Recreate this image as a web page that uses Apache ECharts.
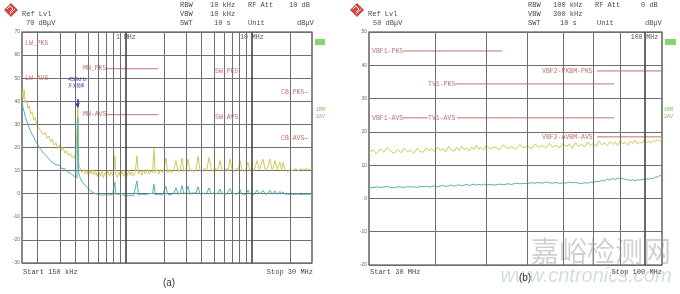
<!DOCTYPE html>
<html><head><meta charset="utf-8">
<script src="https://cdn.jsdelivr.net/npm/echarts@6/dist/echarts.min.js"></script>
<style>html,body{margin:0;padding:0;background:#fff}#c{width:680px;height:294px}</style>
</head><body><div id="c"></div>
<script>
// ---------- Panel (a): 150 kHz - 30 MHz, frequency in MHz, level in dBuV ----------
const freqA = [0.150,0.153,0.156,0.159,0.163,0.167,0.171,0.176,0.181,0.186,
 0.191,0.197,0.203,0.209,0.216,0.223,0.230,0.237,0.245,0.253,
 0.261,0.270,0.279,0.288,0.298,0.308,0.318,0.329,0.340,0.352,
 0.364,0.376,0.389,0.400,0.410,0.416,0.422,0.430,0.440,0.452,
 0.466,0.478,0.490,0.503,0.517,0.531,0.546,0.561,0.577,0.593,
 0.610,0.627,0.645,0.663,0.682,0.701,0.721,0.742,0.763,0.785,
 0.805,0.818,0.832,0.857,0.882,0.908,0.935,0.962,0.990,1.02,
 1.05,1.08,1.11,1.15,1.19,1.225,1.26,1.30,1.34,1.38,
 1.43,1.48,1.53,1.58,1.63,1.67,1.71,1.77,1.83,1.89,
 1.95,2.01,2.08,2.15,2.22,2.30,2.40,2.50,2.60,2.70,
 2.79,2.89,3.00,3.11,3.22,3.34,3.45,3.60,3.74,3.88,
 4.03,4.20,4.38,4.57,4.76,4.96,5.16,5.37,5.58,5.80,
 6.03,6.27,6.50,6.71,6.95,7.22,7.50,7.78,8.05,8.35,
 8.65,8.98,9.31,9.65,10.0,10.45,10.98,11.5,11.9,12.26,
 12.8,13.3,13.9,14.5,15.25,15.9,16.7,17.2,17.7,18.3,
 19.2,20.1,21.1,22.2,23.3,24.5,25.8,27.1,28.5,30.0];
const peakA = [44.5,41.0,45.0,39.5,40.5,37.0,38.0,34.5,35.5,32.0,
 33.0,29.5,30.0,27.5,28.0,25.5,26.5,24.0,25.0,22.5,
 23.5,21.0,22.0,19.5,21.0,18.5,20.0,17.5,18.5,16.5,
 17.5,15.5,16.5,14.5,15.0,37.0,13.0,11.5,10.0,9.0,
 10.5,8.5,10.0,8.0,10.0,8.5,10.5,8.0,9.5,7.5,
 9.5,7.5,10.0,7.0,9.0,8.0,10.0,7.5,9.5,8.0,
 10.0,16.5,8.5,7.0,9.5,7.5,10.0,7.5,9.5,7.5,
 10.0,8.0,9.5,7.5,9.5,16.5,8.5,10.0,8.0,10.0,
 8.5,10.5,8.5,10.0,9.0,19.5,9.0,10.5,8.5,10.5,
 9.0,10.5,15.5,9.0,10.5,9.0,10.5,14.3,9.5,10.5,
 15.5,9.5,10.5,15.0,9.5,10.5,9.5,10.5,16.2,10.0,
 9.5,11.0,10.0,15.7,10.5,9.5,11.0,10.0,14.3,10.5,
 9.5,11.0,10.0,15.0,10.5,9.5,11.0,10.0,14.3,10.5,
 9.5,11.0,13.6,10.0,11.0,10.0,14.3,10.5,9.8,15.0,
 10.0,11.0,15.0,10.0,14.3,10.5,13.6,10.0,13.6,10.5,
 9.5,10.5,10.0,10.8,10.0,10.8,10.2,11.0,10.3,10.8];
const avgA = [40.5,37.0,35.5,33.5,31.5,30.0,28.5,27.0,25.5,24.5,
 23.0,22.0,20.5,19.5,18.5,17.5,16.8,16.0,15.0,14.5,
 13.5,13.8,12.5,12.0,12.3,11.0,10.5,10.8,9.6,9.9,
 8.8,8.2,7.5,7.8,6.8,33.0,9.0,7.5,6.0,5.0,
 4.2,3.5,3.0,2.2,1.5,1.0,0.6,0.2,0.5,-0.2,
 0.3,-0.5,0.0,-0.6,0.1,-0.4,0.0,-0.6,0.2,-0.3,
 0.0,5.0,-0.2,-0.8,-0.2,-0.7,0.1,-0.9,-0.3,-0.8,
 -0.2,-0.7,0.0,-0.9,-0.3,5.5,-0.5,-0.9,-0.2,-1.0,
 -0.4,-0.8,0.0,-0.6,0.1,4.2,-0.4,-0.8,-0.2,0.4,
 -0.6,0.2,3.2,-0.3,0.4,-0.5,0.2,2.6,-0.3,0.4,
 3.5,-0.2,0.5,3.3,-0.3,0.3,-0.2,0.3,3.0,-0.2,
 0.4,-0.1,0.3,2.5,-0.2,0.4,-0.1,0.3,2.0,-0.2,
 0.3,-0.2,0.2,2.2,-0.2,0.2,-0.3,0.1,1.8,-0.2,
 0.2,-0.3,1.5,-0.1,0.2,-0.3,1.6,-0.2,0.1,1.4,
 -0.3,0.1,1.5,-0.2,1.2,-0.3,1.0,-0.2,0.8,-0.3,
 -0.1,-0.4,-0.2,-0.3,-0.1,-0.4,-0.2,-0.3,-0.2,-0.3];
const xRangeA = [0.15, 30];
const yTicksA = [70, 60, 50, 40, 30, 20, 10, 0, -10, -20, -30];
const gridFreqA = [0.2,0.3,0.4,0.5,0.6,0.7,0.8,0.9,1,2,3,4,5,6,7,8,9,10,20];
const limA_level = [54.1, 34.2];
const limA_from = [0.709, 0.709];
const limA_to = [1.80, 1.80];
const limA_text = ['LW_PK5','LW-AVS','MW_PK5','MW-AVS','SW_PK5','SW-AVS','CB_PK5\u2014','CB-AVS\u2014'];
const markerA = { freq: 0.413, from: 41.0, to: 37.3, text: '450kHz', sub: '开关频率' };

// ---------- Panel (b): 30 MHz - 100 MHz ----------
const freqB = [30,30.5,31,31.5,32,32.5,33,33.5,34,34.5,
 35,35.5,36,36.5,37,37.5,38,38.5,39,39.5,
 40,40.5,41,41.5,42,42.5,43,43.5,44,44.5,
 45,45.5,46,46.5,47,47.5,48,48.5,49,49.5,
 50,51,52,53,54,55,56,57,58,59,
 60,61,62,63,64,65,66,67,68,69,
 70,71,72,73,74,75,76,77,78,79,
 80,81,82,83,84,85,86,87,88,89,
 90,91,92,93,94,95,96,97,98,99,
 100,101,102,103,104,105,106,107,108];
const peakB = [13.8,14.6,13.5,14.9,13.9,15.3,14.1,13.6,14.8,13.7,
 15.1,14.0,14.5,13.6,15.0,14.2,13.8,15.2,14.3,14.9,
 13.9,15.4,14.4,15.0,14.0,15.6,14.6,14.1,15.3,14.4,
 15.7,14.6,15.1,14.2,15.5,14.7,16.0,14.8,15.3,14.5,
 15.8,14.9,15.5,14.6,16.1,15.0,15.6,14.8,16.2,15.2,
 15.8,14.9,16.4,15.3,15.9,15.1,16.6,15.4,16.0,15.2,
 16.5,15.6,16.3,15.0,16.8,15.7,16.2,15.4,17.0,15.9,
 16.5,15.6,17.3,16.1,16.7,15.8,17.1,16.2,16.9,15.9,
 17.4,16.4,16.8,16.0,17.2,16.5,17.5,16.3,17.0,16.6,
 17.6,16.8,17.2,16.7,17.5,17.0,17.7,17.3,17.8];
const avgB = [3.4,3.2,3.5,3.3,3.4,3.6,3.3,3.2,3.5,3.4,
 3.3,3.6,3.4,3.5,3.3,3.6,3.5,3.7,3.4,3.6,
 3.8,3.5,3.7,3.9,3.6,3.8,4.0,3.7,3.9,4.1,
 3.8,4.0,4.2,3.9,4.1,4.3,4.0,4.2,4.0,4.3,
 4.1,4.2,4.0,4.3,4.1,4.4,4.2,4.6,4.4,4.5,
 4.5,4.7,4.6,4.8,4.6,4.9,4.7,4.6,4.8,4.5,
 4.7,4.6,4.9,4.7,4.8,4.6,4.5,4.7,4.6,4.9,
 4.8,5.1,5.0,5.4,5.3,5.8,5.5,6.0,5.7,6.1,
 5.8,6.0,5.7,5.6,5.4,5.6,5.3,5.6,5.5,5.7,
 5.6,5.9,5.8,6.1,6.0,6.4,6.5,6.9,7.1];
const xRangeB = [30, 108];
const yTicksB = [50, 40, 30, 20, 10, 0, -10, -20];
const gridFreqB = [40,50,60,70,80,90,100];
const limB_level = [44.3, 38.3, 34.4, 24.2, 24.2, 18.5];
const limB_from = [34.8, 81.3, 43.7, 34.8, 44.1, 81.3];
const limB_to = [53.7, 108, 87.6, 38.8, 87.6, 108];
const limB_text = ['VBF1-PK5','VBF2-PKBM-PK5','TV1-PK5','VBF1-AVS','TV1-AVS','VBF2-AVBM-AVS'];

// ---------- styling ----------
const YEL = '#d3c75c', CYA = '#4fb3b8', LIM = '#c86f6f', GRIDC = '#6e6e6e';
const MONO = '"Liberation Mono", "DejaVu Sans Mono", monospace';
const zip = (a, b) => a.map((v, i) => [v, b[i]]);
const isDecade = v => Math.abs(Math.log10(v) - Math.round(Math.log10(v))) < 1e-6;

function T(x, y, text, o) {
  const st = Object.assign({ text, fill: '#4a4a4a', font: '7px ' + MONO,
    textAlign: 'left', textVerticalAlign: 'middle', align: 'left', verticalAlign: 'middle' }, o || {});
  if (o && o.textAlign) st.align = o.textAlign;
  return { type: 'text', x, y, silent: true, z: 100, style: st };
}
function logo(cx, cy) {
  const h = 7;
  return [
    { type: 'polygon', silent: true, z: 100, shape: { points: [[cx, cy - h], [cx + h, cy], [cx, cy + h], [cx - h, cy]] }, style: { fill: '#d8463e' } },
    { type: 'polyline', silent: true, z: 101, shape: { points: [[cx - 4, cy - 1], [cx - 1, cy - 4], [cx + 2, cy - 1], [cx - 1, cy + 2]] }, style: { stroke: '#fff', lineWidth: 1, fill: null } },
    { type: 'polyline', silent: true, z: 101, shape: { points: [[cx - 1, cy + 4], [cx + 4, cy - 1]] }, style: { stroke: '#fff', lineWidth: 1, fill: null } }
  ];
}

const limitTextA = { font: '6.5px ' + MONO, fill: LIM };
const limitPos = {
  'LW_PK5': [25, 43], 'LW-AVS': [25, 78], 'MW_PK5': [83, 68], 'MW-AVS': [83, 114],
  'SW_PK5': [215, 71], 'SW-AVS': [215, 117], 'CB_PK5\u2014': [281, 92], 'CB-AVS\u2014': [281, 138],
  'VBF1-PK5': [372, 51], 'VBF2-PKBM-PK5': [542, 71], 'TV1-PK5': [428, 84],
  'VBF1-AVS': [372, 118], 'TV1-AVS': [428, 118], 'VBF2-AVBM-AVS': [542, 137]
};

const graphics = [].concat(
  logo(11, 10), logo(357, 10),
  [
    T(22, 14, 'Ref Lvl'), T(26, 23, '70 dB\u03bcV'),
    T(180, 5, 'RBW'), T(210, 5, '10 kHz'), T(248, 5, 'RF Att'), T(289, 5, '10 dB'),
    T(180, 14, 'VBW'), T(210, 14, '10 kHz'),
    T(180, 23, 'SWT'), T(214, 23, '10 s'), T(248, 23, 'Unit'), T(297, 23, 'dB\u03bcV'),
    T(368, 14, 'Ref Lvl'), T(373, 23, '50 dB\u03bcV'),
    T(528, 5, 'RBW'), T(553, 5, '100 kHz'), T(595, 5, 'RF Att'), T(641, 5, '0 dB'),
    T(528, 14, 'VBW'), T(553, 14, '300 kHz'),
    T(528, 23, 'SWT'), T(560, 23, '10 s'), T(597, 23, 'Unit'), T(645, 23, 'dB\u03bcV'),
    T(23, 272, 'Start 150 kHz'), T(313, 272, 'Stop 30 MHz', { textAlign: 'right' }),
    T(370, 272, 'Start 30 MHz'), T(662, 272, 'Stop 100 MHz', { textAlign: 'right' }),
    { type: 'rect', silent: true, z: 100, shape: { x: 315, y: 39, width: 10, height: 6 }, style: { fill: '#86d46f' } },
    { type: 'rect', silent: true, z: 100, shape: { x: 665, y: 39, width: 11, height: 6 }, style: { fill: '#86d46f' } },
    T(316, 110, '1RM', { font: '5px ' + MONO, fill: '#78c466' }), T(316, 117, '2AV', { font: '5px ' + MONO, fill: '#78c466' }),
    T(664, 110, '1RM', { font: '5px ' + MONO, fill: '#78c466' }), T(664, 117, '2AV', { font: '5px ' + MONO, fill: '#78c466' }),
    T(68, 79.5, markerA.text, { font: '5.5px "Liberation Sans", sans-serif', fill: '#3545a5' }),
    T(68, 85, markerA.sub, { font: '4.2px "Noto Sans CJK SC", sans-serif', fill: '#3545a5' }),
    T(601, 251, '嘉峪检测网', { font: '28px "Noto Sans CJK SC", sans-serif', fill: 'rgba(150,150,150,0.45)', textAlign: 'center' }),
    T(586, 276, 'www.cntronics.com', { font: 'italic 20px "Liberation Sans", sans-serif', fill: 'rgba(130,165,135,0.35)', textAlign: 'center' }),
    T(169, 283, '(a)', { font: '10px "Liberation Sans", Arial, sans-serif', fill: '#333', textAlign: 'center' }),
    T(525, 278, '(b)', { font: '10px "Liberation Sans", Arial, sans-serif', fill: '#333', textAlign: 'center' })
  ],
  limA_text.concat(limB_text).map(s => T(limitPos[s][0], limitPos[s][1], s, limitTextA))
);

function xAxisLog(idx, range) {
  return {
    gridIndex: idx, type: 'log', logBase: 10, min: range[0], max: range[1], position: 'top',
    axisLine: { show: false }, axisTick: { show: false }, splitLine: { show: false }, minorSplitLine: { show: false },
    axisLabel: { inside: true, margin: 2, fontSize: 6.5, fontFamily: MONO, color: '#555',
      showMinLabel: false, showMaxLabel: false,
      formatter: v => isDecade(v) ? Math.round(v) + ' MHz' : '' }
  };
}
function yAxisVal(idx, ticks) {
  return {
    gridIndex: idx, type: 'value', min: Math.min(...ticks), max: Math.max(...ticks), interval: 10,
    axisLine: { show: false }, axisTick: { show: false },
    axisLabel: { fontSize: 5, color: '#666', margin: 2, fontFamily: '"Liberation Sans", sans-serif' },
    splitLine: { show: true, lineStyle: { color: GRIDC, width: 1 } }
  };
}
function vGridSeries(idx, freqs) {
  return {
    type: 'line', xAxisIndex: idx, yAxisIndex: idx, data: [], z: 1, silent: true,
    markLine: {
      silent: true, symbol: 'none', animation: false, label: { show: false },
      lineStyle: { color: GRIDC, width: 1, type: 'solid' },
      data: freqs.map(f => ({ xAxis: f, lineStyle: { color: isDecade(f) ? '#444' : GRIDC, width: isDecade(f) ? 1.6 : 1, type: 'solid' } }))
    }
  };
}
function limitSeries(idx, from, to, level) {
  return level.map((lv, i) => ({
    type: 'line', xAxisIndex: idx, yAxisIndex: idx, z: 2, silent: true, symbol: 'none',
    lineStyle: { color: LIM, width: 1 }, data: [[from[i], lv], [to[i], lv]]
  }));
}
function trace(idx, fr, vals, color, z) {
  return { type: 'line', xAxisIndex: idx, yAxisIndex: idx, z, silent: true, symbol: 'none', showSymbol: false,
    lineStyle: { color, width: 1 }, data: zip(fr, vals) };
}

const markerSeries = {
  type: 'line', xAxisIndex: 0, yAxisIndex: 0, data: [], z: 5, silent: true,
  markLine: {
    silent: true, animation: false, label: { show: false },
    data: [[
      { coord: [markerA.freq, markerA.from], symbol: 'none', lineStyle: { color: '#2f3f9a', width: 1.5, type: 'solid' } },
      { coord: [markerA.freq, markerA.to], symbol: 'arrow', symbolSize: [4, 5], lineStyle: { color: '#2f3f9a', width: 1.5, type: 'solid' } }
    ]]
  }
};

const chart = echarts.init(document.getElementById('c'), null, { renderer: 'canvas', width: 680, height: 294 });
chart.setOption({
  animation: false,
  backgroundColor: '#fff',
  grid: [
    { left: 22, top: 32, width: 290, height: 231, show: true, borderColor: '#3a3a3a', borderWidth: 1.2, backgroundColor: '#fff' },
    { left: 369, top: 32, width: 293, height: 233, show: true, borderColor: '#3a3a3a', borderWidth: 1.2, backgroundColor: '#fff' }
  ],
  xAxis: [xAxisLog(0, xRangeA), xAxisLog(1, xRangeB)],
  yAxis: [yAxisVal(0, yTicksA), yAxisVal(1, yTicksB)],
  graphic: graphics,
  series: [].concat(
    [vGridSeries(0, gridFreqA), vGridSeries(1, gridFreqB)],
    limitSeries(0, limA_from, limA_to, limA_level),
    limitSeries(1, limB_from, limB_to, limB_level),
    [trace(0, freqA, peakA, YEL, 3), trace(0, freqA, avgA, CYA, 4),
     trace(1, freqB, peakB, YEL, 3), trace(1, freqB, avgB, CYA, 4), markerSeries]
  )
});
</script></body></html>
